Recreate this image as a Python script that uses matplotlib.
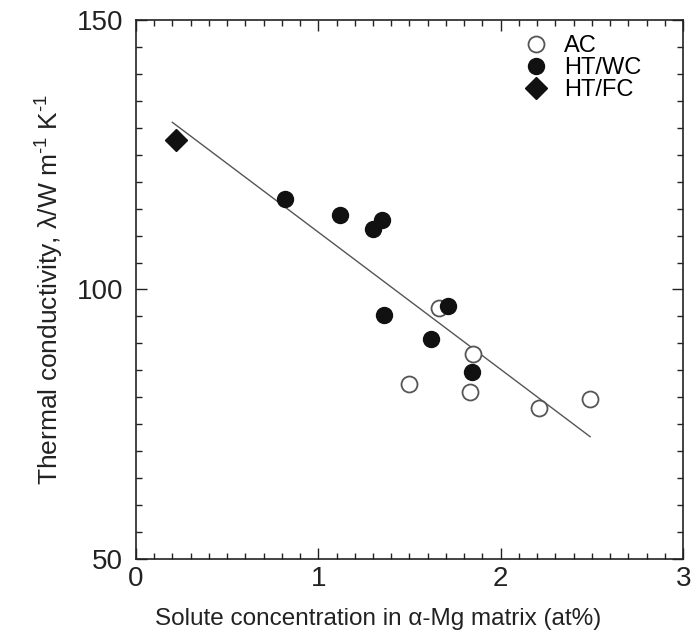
import matplotlib
matplotlib.use('Agg')
import matplotlib.pyplot as plt
from matplotlib.ticker import MultipleLocator

plt.rcParams['font.family'] = ['Liberation Sans', 'DejaVu Sans']
plt.rcParams['mathtext.fontset'] = 'custom'
plt.rcParams['mathtext.rm'] = 'Liberation Sans'
plt.rcParams['mathtext.it'] = 'Liberation Sans:italic'

# as-cast samples (open circles)
ac_x = [1.66, 1.85, 1.50, 1.83, 2.21, 2.49]
ac_y = [96.5, 88.0, 82.4, 81.0, 78.0, 79.7]

# heat treated, water cooled (filled circles)
wc_x = [0.82, 1.12, 1.30, 1.35, 1.36, 1.71, 1.62, 1.84]
wc_y = [116.8, 113.8, 111.2, 112.8, 95.3, 97.0, 90.9, 84.7]

# heat treated, furnace cooled (diamond)
fc_x = [0.22]
fc_y = [127.7]

# linear fit endpoints
fit_x = [0.20, 2.49]
fit_y = [131.0, 72.7]

fig = plt.figure(figsize=(7.0, 6.39), dpi=100)
ax = fig.add_axes([0.194, 0.125, 0.782, 0.844])

ax.plot(fit_x, fit_y, color='#555555', linewidth=1.0, zorder=1)
ax.plot(ac_x, ac_y, 'o', markersize=11.5, markerfacecolor='white',
        markeredgecolor='#555555', markeredgewidth=1.3, label='AC', zorder=2)
ax.plot(wc_x, wc_y, 'o', markersize=11.5, color='#111111', label='HT/WC', zorder=3)
ax.plot(fc_x, fc_y, 'D', markersize=11, color='#111111', label='HT/FC', zorder=3)

ax.set_xlim(0, 3)
ax.set_ylim(50, 150)
ax.xaxis.set_major_locator(MultipleLocator(1))
ax.xaxis.set_minor_locator(MultipleLocator(0.1))
ax.yaxis.set_major_locator(MultipleLocator(50))
ax.yaxis.set_minor_locator(MultipleLocator(5))
ax.tick_params(which='both', direction='in', top=True, right=True,
               labelsize=20, width=1.0, colors='#222222')
ax.tick_params(which='major', length=8)
ax.tick_params(axis='y', which='major', pad=9)
ax.tick_params(axis='x', which='major', pad=5)
ax.tick_params(which='minor', length=4)
for s in ax.spines.values():
    s.set_linewidth(1.2)
    s.set_color('#222222')

ax.set_xlabel('Solute concentration in α-Mg matrix (at%)', fontsize=17.5,
              color='#222222')
ax.xaxis.set_label_coords(0.442, -0.091)
ax.set_ylabel(r'Thermal conductivity, λ/W m$^{\text{-}1}$ K$^{\text{-}1}$',
              fontsize=19, color='#222222', labelpad=8)

ax.legend(loc='upper left', bbox_to_anchor=(0.705, 0.972), frameon=False,
          fontsize=17, handletextpad=0.6, labelspacing=0.0,
          handlelength=1.2, borderaxespad=0.0, borderpad=0.0)

fig.savefig('out.png', dpi=100)
